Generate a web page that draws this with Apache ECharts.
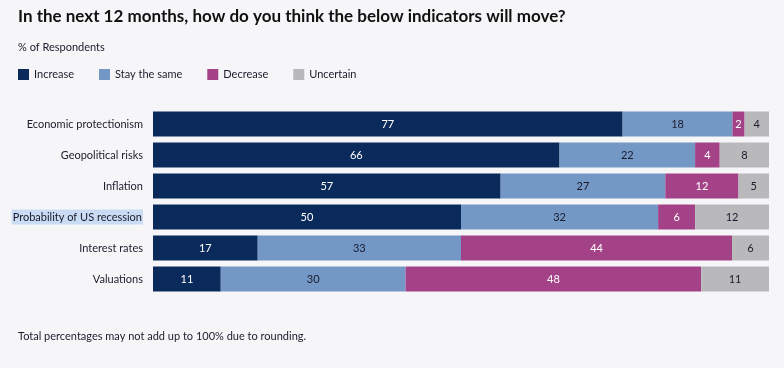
<!DOCTYPE html>
<html>
<head>
<meta charset="utf-8">
<script src="https://cdn.jsdelivr.net/npm/echarts@6/dist/echarts.min.js"></script>
<style>
html,body{margin:0;padding:0;background:#f6f6f9;}
#c{width:784px;height:368px;}
</style>
</head>
<body>
<div id="c"></div>
<script>
const categories = ['Economic protectionism','Geopolitical risks','Inflation','Probability of US recession','Interest rates','Valuations'];
const seriesNames = ['Increase','Stay the same','Decrease','Uncertain'];
const increase = [77,66,57,50,17,11];
const staySame = [18,22,27,32,33,30];
const decrease = [2,4,12,6,44,48];
const uncertain = [4,8,5,12,6,11];
const colors = ['#0b2a5c','#7398c6','#a34287','#b9b9bc'];
const labelColors = ['#ffffff','#1b1b2b','#ffffff','#1b1b2b'];

const raw = [increase, staySame, decrease, uncertain];
const totals = categories.map((_, i) => raw.reduce((s, arr) => s + arr[i], 0));

const chart = echarts.init(document.getElementById('c'));
const FONT = 'Lato';
chart.setOption({
  backgroundColor: '#f6f6f9',
  animation: false,
  textStyle: {fontFamily: FONT},
  title: [
    {text: 'In the next 12 months, how do you think the below indicators will move?', left: 18, top: 8, padding: 0,
     textStyle: {fontFamily: FONT, fontWeight: 'bold', fontSize: 17, color: '#111'}},
    {text: '% of Respondents', left: 18, top: 42, padding: 0,
     textStyle: {fontFamily: FONT, fontWeight: 'normal', fontSize: 11, color: '#1b1b2b'}},
    {text: 'Total percentages may not add up to 100% due to rounding.', left: 18, top: 331, padding: 0,
     textStyle: {fontFamily: FONT, fontWeight: 'normal', fontSize: 11, color: '#1b1b2b'}}
  ],
  legend: {
    data: seriesNames, left: 18, top: 69, padding: 0, icon: 'rect', itemWidth: 11, itemHeight: 11, itemGap: 25,
    textStyle: {fontFamily: FONT, fontSize: 11, color: '#1b1b2b'}
  },
  grid: {left: 153, right: 15, top: 108.5, bottom: 73.5, containLabel: false},
  xAxis: {type: 'value', min: 0, max: 100, show: false},
  yAxis: {
    type: 'category', data: categories, inverse: true,
    axisLine: {show: false}, axisTick: {show: false},
    axisLabel: {
      margin: 10, fontFamily: FONT, fontSize: 11, color: '#1b1b2b',
      formatter: v => v === 'Probability of US recession' ? '{hl|' + v + '}' : v,
      rich: {hl: {backgroundColor: '#c9dcf3', padding: [2,1,2,1], fontFamily: FONT, fontSize: 11, color: '#1b1b2b'}}
    }
  },
  series: seriesNames.map((name, k) => ({
    name, type: 'bar', stack: 'all', barWidth: 25,
    itemStyle: {color: colors[k]},
    label: {show: true, position: 'inside', color: labelColors[k], fontFamily: FONT, fontSize: 11,
            formatter: p => raw[k][p.dataIndex]},
    data: raw[k].map((v, i) => v / totals[i] * 100)
  }))
});
</script>
</body>
</html>
